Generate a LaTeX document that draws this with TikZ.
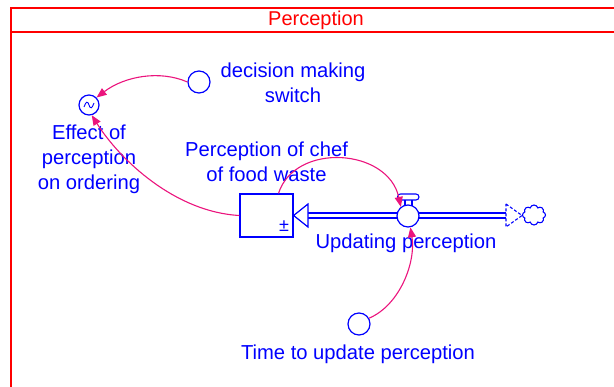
\documentclass[tikz,border=0pt]{standalone}
\usepackage{fontspec}
\setmainfont{Liberation Sans}
\usetikzlibrary{arrows.meta,shapes.symbols}
\definecolor{linkpink}{RGB}{235,20,125}
\definecolor{sdblue}{RGB}{0,0,255}
\definecolor{sdred}{RGB}{255,0,0}
\tikzset{
  lbl/.style={text=sdblue, inner sep=0pt, align=center, font=\fontsize{20.2}{25}\selectfont},
  aux/.style={circle, draw=sdblue, line width=1.2pt, fill=white, minimum size=22pt, inner sep=0pt},
  link/.style={draw=linkpink, line width=1.1pt, -{Triangle[length=10pt,width=8pt]}},
  pipe/.style={draw=sdblue, line width=1.1pt},
}
\begin{document}
\begin{tikzpicture}[x=1pt,y=-1pt]
\useasboundingbox (0,0) rectangle (614,387);
\clip (0,0) rectangle (614,387);

% sector frame
\draw[sdred, line width=1.3pt] (11,400) -- (11,8) -- (630,8);
\draw[sdred, line width=1.3pt] (11,32) -- (630,32);
\node[text=sdred, inner sep=0pt, font=\fontsize{20}{22}\selectfont] (title) at (316,20.5) {Perception};

% flow pipes
\draw[pipe] (308,213) -- (398,213);
\draw[pipe] (308,218) -- (398,218);
\draw[pipe, line width=1.5pt] (418,213) -- (506,213);
\draw[pipe, line width=1.5pt] (418,218) -- (506,218);

% stock
\node[draw=sdblue, line width=1.2pt, fill=white, minimum width=53pt, minimum height=43pt, inner sep=0pt] (stock) at (266.5,215.5) {};
\node[text=sdblue, inner sep=0pt, font=\fontsize{18}{18}\selectfont] (pm) at (284,226) {±};

% inflow arrowhead into the stock
\draw[sdblue, line width=1.2pt, fill=white] (stock.east) -- (308,204) -- (308,227) -- cycle;

% outflow end: dashed arrowhead and cloud
\draw[sdblue, line width=1.1pt, dashed, dash pattern=on 3pt off 2pt] (506,204) -- (522,215.5) -- (506,227) -- cycle;
\node[cloud, cloud puffs=8, aspect=1.15, draw=sdblue, line width=1.1pt, minimum width=23pt, minimum height=20pt, inner sep=0pt] (cloud) at (534,215) {};

% valve
\draw[sdblue, line width=1.1pt, fill=white] (405,199) rectangle (412,206);
\draw[sdblue, line width=1.1pt, fill=white, rounded corners=3pt] (397.5,194) rectangle (419,200);
\node[aux] (valve) at (408,216) {};

% auxiliaries
\node[aux, minimum size=20pt] (effect) at (89,105) {};
\draw[sdblue, line width=0.9pt] (84,107) .. controls (86,101) and (88,101) .. (89,105) .. controls (90,109) and (92,109) .. (94,103);
\node[aux] (switch) at (199,82) {};
\node[aux] (time) at (359,324) {};

% labels
\node[lbl] (effectlbl) at (89,159.5) {Effect of\\perception\\on ordering};
\node[lbl] (switchlbl) at (293,83) {decision making\\switch};
\node[lbl] (stocklbl) at (266.5,162) {Perception of chef\\of food waste};
\node[lbl] (valvelbl) at (406,243) {Updating perception};
\node[lbl] (timelbl) at (358,354) {Time to update perception};

% connectors
\draw[link] (switch.west) .. controls (160,70) and (125,76) .. (effect.45);
\draw[link] (stock.west) .. controls (175,212) and (120,160) .. (effect.-75);
\draw[link] (stock.north) ++(12,0) .. controls (295,142) and (388,148) .. (valve.128);
\draw[link] (time.30) .. controls (400,305) and (416,262) .. (valve.-78);
\end{tikzpicture}
\end{document}
